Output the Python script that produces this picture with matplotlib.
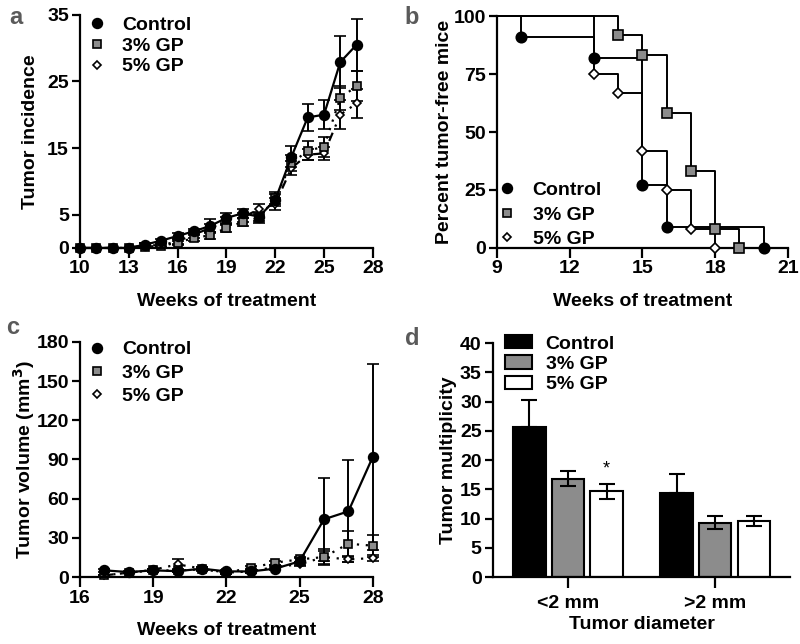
import numpy as np
import matplotlib
matplotlib.use("Agg")
from matplotlib import pyplot as plt
from matplotlib.lines import Line2D

plt.rcParams['font.family'] = ['Liberation Sans', 'DejaVu Sans']
plt.rcParams['font.weight'] = 'bold'
plt.rcParams['font.size'] = 14
plt.rcParams['axes.linewidth'] = 1.6
plt.rcParams['xtick.major.width'] = 1.6
plt.rcParams['ytick.major.width'] = 1.6
plt.rcParams['xtick.major.size'] = 7
plt.rcParams['ytick.major.size'] = 6

groups = ["Control", "3% GP", "5% GP"]

# panel a: tumor incidence
weeks_a = np.arange(10, 28)
inc_ctrl = [0, 0, 0, 0, 0.5, 1.1, 1.8, 2.5, 3.3, 4.5, 5.2, 4.7, 7.2, 13.7, 19.6, 20.0, 27.9, 30.5]
inc_ctrl_err = [0, 0, 0, 0, 0.3, 0.3, 0.4, 0.4, 1.0, 0.8, 0.7, 0.7, 0.9, 1.6, 2.0, 2.2, 3.9, 3.9]
inc_gp3 = [0, 0, 0, 0, 0.2, 0.3, 0.8, 1.5, 1.9, 3.0, 3.9, 4.5, 7.5, 12.7, 14.6, 15.2, 22.5, 24.3]
inc_gp3_err = [0, 0, 0, 0, 0.2, 0.2, 0.3, 0.4, 0.5, 0.6, 0.6, 0.7, 0.9, 1.2, 1.4, 1.5, 1.8, 2.2]
inc_gp5 = [0, 0, 0, 0, 0.4, 0.4, 1.0, 2.0, 3.0, 4.0, 4.6, 5.8, 6.6, 12.0, 14.0, 14.2, 20.0, 21.7]
inc_gp5_err = [0, 0, 0, 0, 0.3, 0.3, 0.4, 0.5, 0.6, 0.6, 0.7, 0.8, 0.9, 1.0, 0.8, 1.0, 2.2, 2.2]

# panel b: percent tumor-free mice (Kaplan-Meier)
km_ctrl_t = [9, 10, 13, 15, 16, 20]
km_ctrl_s = [100, 90.9, 81.8, 27.3, 9.1, 0]
km_gp3_t = [9, 14, 15, 16, 17, 18, 19]
km_gp3_s = [100, 91.7, 83.3, 58.3, 33.3, 8.3, 0]
km_gp5_t = [9, 13, 14, 15, 16, 17, 18]
km_gp5_s = [100, 75, 66.7, 41.7, 25, 8.3, 0]

# panel c: tumor volume
weeks_c = np.arange(17, 29)
vol_ctrl = [5.1, 3.8, 5.1, 4.5, 6.4, 4.3, 4.3, 6.4, 12.0, 44.2, 50.3, 92.0]
vol_ctrl_err = [1.0, 0.8, 1.0, 1.0, 1.2, 1.0, 1.0, 1.3, 2.5, 32.0, 39.0, 71.5]
vol_gp3 = [1.3, 3.3, 5.1, 5.0, 5.9, 3.3, 7.1, 11.0, 13.5, 15.3, 25.5, 24.0]
vol_gp3_err = [0.5, 0.6, 0.9, 1.0, 1.0, 0.8, 1.2, 1.5, 2.0, 5.0, 9.5, 8.5]
vol_gp5 = [1.3, 3.3, 5.5, 9.7, 6.4, 3.3, 4.3, 7.7, 9.7, 15.3, 13.5, 14.5]
vol_gp5_err = [0.5, 0.6, 1.0, 4.0, 1.0, 0.8, 0.9, 1.2, 1.5, 6.0, 2.0, 2.0]

# panel d: tumor multiplicity
diam_labels = ["<2 mm", ">2 mm"]
mult_ctrl = [25.6, 14.4]
mult_ctrl_err = [4.7, 3.3]
mult_gp3 = [16.8, 9.3]
mult_gp3_err = [1.3, 1.1]
mult_gp5 = [14.7, 9.6]
mult_gp5_err = [1.3, 0.8]

fig = plt.figure(figsize=(8, 6.44), dpi=100)
ax_a = fig.add_axes([0.100, 0.615, 0.366, 0.362])
ax_b = fig.add_axes([0.621, 0.615, 0.364, 0.360])
ax_c = fig.add_axes([0.100, 0.104, 0.366, 0.365])
ax_d = fig.add_axes([0.616, 0.104, 0.372, 0.363])

gray = "#8c8c8c"
styles = [
    dict(marker='o', mfc='black', mec='black', ms=7, ls='-'),
    dict(marker='s', mfc=gray, mec='black', ms=6, ls=(0, (1, 3))),
    dict(marker='D', mfc='white', mec='black', ms=4.5, ls=(0, (4, 3, 1, 3))),
]

for ax in [ax_a, ax_b, ax_c, ax_d]:
    ax.spines['top'].set_visible(False)
    ax.spines['right'].set_visible(False)
    ax.tick_params(labelsize=14, pad=2)

# a
for y, e, st in zip([inc_gp5, inc_gp3, inc_ctrl], [inc_gp5_err, inc_gp3_err, inc_ctrl_err], styles[::-1]):
    ax_a.errorbar(weeks_a, y, yerr=e, color='black', lw=1.6, capsize=4, elinewidth=1.4,
                  capthick=1.4, mew=1.2, clip_on=False, **st)
ax_a.set_xlim(10, 28)
ax_a.set_ylim(0, 35)
ax_a.set_xticks([10, 13, 16, 19, 22, 25, 28])
ax_a.set_yticks([0, 5, 15, 25, 35])
ax_a.set_ylabel("Tumor incidence", fontsize=14, fontweight='bold')
ax_a.yaxis.set_label_coords(-0.14, 0.5)
ax_a.set_xlabel("Weeks of treatment", fontsize=14, fontweight='bold', labelpad=11)

# b
for t, s, st in zip([km_ctrl_t, km_gp3_t, km_gp5_t], [km_ctrl_s, km_gp3_s, km_gp5_s], styles):
    ax_b.step(t, s, where='post', color='black', lw=1.4, clip_on=False)
    ax_b.plot(t[1:], s[1:], ls='none', marker=st['marker'], mfc=st['mfc'], mec='black',
              ms=st['ms'] + 0.5, mew=1.2, clip_on=False, zorder=5)
ax_b.set_xlim(9, 21)
ax_b.set_ylim(0, 100)
ax_b.set_xticks([9, 12, 15, 18, 21])
ax_b.set_yticks([0, 25, 50, 75, 100])
ax_b.set_ylabel("Percent tumor-free mice", fontsize=14, fontweight='bold')
ax_b.yaxis.set_label_coords(-0.151, 0.5)
ax_b.set_xlabel("Weeks of treatment", fontsize=14, fontweight='bold', labelpad=11)

# c
for y, e, st in zip([vol_gp5, vol_gp3, vol_ctrl], [vol_gp5_err, vol_gp3_err, vol_ctrl_err], styles[::-1]):
    ax_c.errorbar(weeks_c, y, yerr=e, color='black', lw=1.6, capsize=4, elinewidth=1.4,
                  capthick=1.4, mew=1.2, clip_on=False, **st)
ax_c.set_xlim(16, 28)
ax_c.set_ylim(0, 180)
ax_c.set_xticks([16, 19, 22, 25, 28])
ax_c.set_yticks([0, 30, 60, 90, 120, 150, 180])
ax_c.set_ylabel("Tumor volume (mm$^\\mathbf{3}$)", fontsize=14, fontweight='bold')
ax_c.yaxis.set_label_coords(-0.148, 0.5)
ax_c.set_xlabel("Weeks of treatment", fontsize=14, fontweight='bold', labelpad=11)

# legends for a, b, c
handles = [Line2D([], [], ls='none', marker=st['marker'], mfc=st['mfc'], mec='black',
                  ms=st['ms'], mew=1.2) for st in styles]
leg_kw = dict(frameon=False, fontsize=14, handletextpad=0.8, handlelength=1.0, borderpad=0,
              borderaxespad=0)
ax_a.legend(handles, groups, loc='upper left', bbox_to_anchor=(0.024, 0.995),
            labelspacing=0.17, **leg_kw)
ax_b.legend(handles, groups, loc='lower left', bbox_to_anchor=(0.003, 0.0),
            labelspacing=0.35, **leg_kw)
ax_c.legend(handles, groups, loc='upper left', bbox_to_anchor=(0.024, 1.005),
            labelspacing=0.3, **leg_kw)

# d
x = np.arange(len(diam_labels))
off = 0.262
w = 0.22
ekw = dict(elinewidth=1.5, capthick=1.5)
ax_d.bar(x - off, mult_ctrl, w, color='black', edgecolor='black', lw=1.5, label=groups[0])
ax_d.bar(x, mult_gp3, w, color=gray, edgecolor='black', lw=1.5, label=groups[1])
ax_d.bar(x + off, mult_gp5, w, color='white', edgecolor='black', lw=1.5, label=groups[2])
ax_d.errorbar(x - off, mult_ctrl, yerr=[[0, 0], mult_ctrl_err], fmt='none', ecolor='black', capsize=6, **ekw)
ax_d.errorbar(x, mult_gp3, yerr=mult_gp3_err, fmt='none', ecolor='black', capsize=6, **ekw)
ax_d.errorbar(x + off, mult_gp5, yerr=mult_gp5_err, fmt='none', ecolor='black', capsize=6, **ekw)
ax_d.text(x[0] + off, mult_gp5[0] + mult_gp5_err[0] + 1.0, "*", ha='center', va='bottom',
          fontsize=13, fontweight='normal')
ax_d.set_xlim(-0.51, 1.51)
ax_d.set_ylim(0, 40)
ax_d.set_yticks(np.arange(0, 41, 5))
ax_d.set_xticks(x)
ax_d.set_xticklabels(diam_labels)
ax_d.tick_params(axis='x', pad=5, length=8)
ax_d.set_ylabel("Tumor multiplicity", fontsize=14, fontweight='bold')
ax_d.yaxis.set_label_coords(-0.121, 0.5)
ax_d.set_xlabel("Tumor diameter", fontsize=14, fontweight='bold', labelpad=3)
ax_d.legend(loc='upper left', bbox_to_anchor=(0.04, 1.035), frameon=False, fontsize=14,
            handlelength=1.4, handleheight=0.67, handletextpad=0.7, labelspacing=0.15,
            borderpad=0, borderaxespad=0)

for ax in [ax_a, ax_b, ax_c, ax_d]:
    for lab in ax.get_xticklabels() + ax.get_yticklabels():
        lab.set_fontweight('bold')

# panel letters
for lbl, (px, py) in zip("abcd", [(0.011, 0.973), (0.506, 0.973), (0.008, 0.492), (0.506, 0.475)]):
    fig.text(px, py, lbl, fontsize=17, fontweight='bold', color='#5a5a5a', ha='left', va='center')

fig.savefig("out.png", dpi=100)
